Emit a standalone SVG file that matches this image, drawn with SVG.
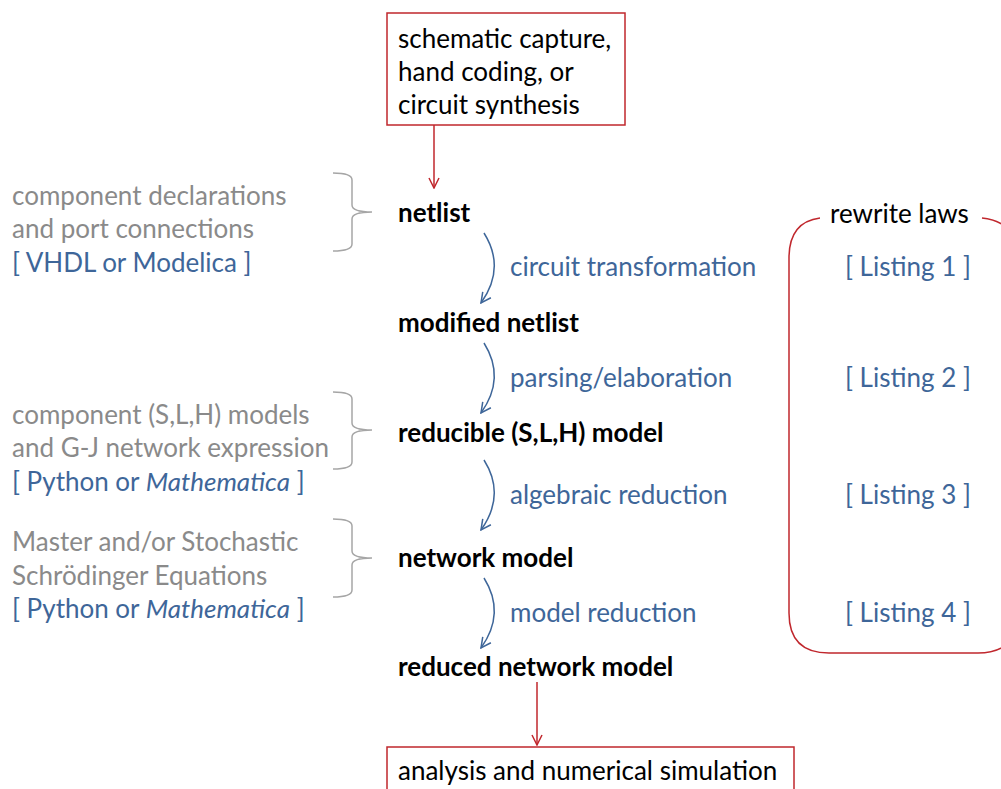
<svg xmlns="http://www.w3.org/2000/svg" width="1001" height="789" viewBox="0 0 1001 789">
<style>
text{font-family:Lato,"Open Sans","Liberation Sans",sans-serif;font-size:26px}
.k{fill:#000}
.b{font-weight:bold;fill:#000}
.g{fill:#8a8a8a}
.u{fill:#3e6699}
.i{font-style:italic}
.box{fill:#fff;stroke:#c0272d;stroke-width:1.5}
.red{fill:none;stroke:#c0272d;stroke-width:1.5}
.blue{fill:none;stroke:#3e6699;stroke-width:1.5}
.brace{fill:none;stroke:#a6a6a6;stroke-width:1.5}
</style>
<defs>
<marker id="ar" viewBox="0 0 12 12" refX="11" refY="6" markerWidth="12" markerHeight="12" markerUnits="userSpaceOnUse" orient="auto"><path d="M1,1 L11,6 L1,11" fill="none" stroke="#c0272d" stroke-width="1.5"/></marker>
<marker id="ab" viewBox="0 0 12 12" refX="11" refY="6" markerWidth="12" markerHeight="12" markerUnits="userSpaceOnUse" orient="auto"><path d="M1,1 L11,6 L1,11" fill="none" stroke="#3e6699" stroke-width="1.5"/></marker>
</defs>
<g id="connectors">
<path class="red" d="M434,125 V188" marker-end="url(#ar)"/>
<path class="red" d="M537,682 V745" marker-end="url(#ar)"/>
<path class="blue" d="M484,233 Q506,268 481,303" marker-end="url(#ab)"/>
<path class="blue" d="M484,343 Q506,378 481,413" marker-end="url(#ab)"/>
<path class="blue" d="M484,460 Q506,495 481,530" marker-end="url(#ab)"/>
<path class="blue" d="M484,578 Q506,613 481,648" marker-end="url(#ab)"/>
</g>
<g id="source">
<rect class="box" x="387" y="13" width="238" height="112"/>
<text class="k" x="398" y="48">schematic capture,</text>
<text class="k" x="398" y="81">hand coding, or</text>
<text class="k" x="398" y="114">circuit synthesis</text>
</g>
<g id="netlist"><text class="b" x="398" y="222">netlist</text></g>
<g id="modified-netlist"><text class="b" x="398" y="332">modified netlist</text></g>
<g id="reducible-model"><text class="b" x="398" y="442">reducible (S,L,H) model</text></g>
<g id="network-model"><text class="b" x="398" y="567">network model</text></g>
<g id="reduced-network-model"><text class="b" x="398" y="676">reduced network model</text></g>
<g id="analysis">
<rect class="box" x="387" y="747" width="407" height="50"/>
<text class="k" x="398" y="780">analysis and numerical simulation</text>
</g>
<g id="step-labels">
<text class="u" x="510" y="276">circuit transformation</text>
<text class="u" x="510" y="387">parsing/elaboration</text>
<text class="u" x="510" y="504">algebraic reduction</text>
<text class="u" x="510" y="622">model reduction</text>
</g>
<g id="rewrite-laws">
<path class="red" d="M820,218 Q789,222 789,258 V613 Q789,653 829,653 H978 Q1018,653 1018,613 V258 Q1018,222 982,218"/>
<text class="k" x="830" y="223">rewrite laws</text>
<text class="u" x="845" y="276">[ Listing 1 ]</text>
<text class="u" x="845" y="387">[ Listing 2 ]</text>
<text class="u" x="845" y="504">[ Listing 3 ]</text>
<text class="u" x="845" y="622">[ Listing 4 ]</text>
</g>
<g id="annot-netlist">
<path class="brace" d="M333,173 Q352,173 352,180 V205 Q352,212 372,212 Q352,212 352,219 V244 Q352,251 333,251"/>
<text class="g" x="12" y="205">component declarations</text>
<text class="g" x="12" y="238">and port connections</text>
<text class="u" x="12" y="272">[ VHDL or Modelica ]</text>
</g>
<g id="annot-reducible">
<path class="brace" d="M333,392 Q352,392 352,399 V423 Q352,430 372,430 Q352,430 352,437 V462 Q352,469 333,469"/>
<text class="g" x="12" y="424">component (S,L,H) models</text>
<text class="g" x="12" y="457">and G-J network expression</text>
<text class="u" x="12" y="491">[ Python or <tspan class="i">Mathematica</tspan> ]</text>
</g>
<g id="annot-network">
<path class="brace" d="M333,519 Q352,519 352,526 V551 Q352,558 372,558 Q352,558 352,565 V590 Q352,597 333,597"/>
<text class="g" x="12" y="551">Master and/or Stochastic</text>
<text class="g" x="12" y="585">Schrödinger Equations</text>
<text class="u" x="12" y="618">[ Python or <tspan class="i">Mathematica</tspan> ]</text>
</g>
</svg>
